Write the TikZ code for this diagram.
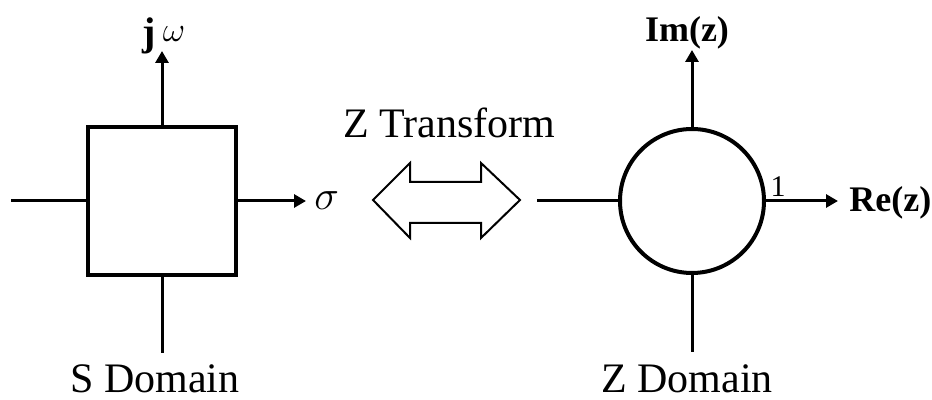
\documentclass[tikz,border=0pt]{standalone}
\usepackage{fontspec}
\setmainfont{Liberation Serif}
\usetikzlibrary{positioning,arrows.meta}

\begin{document}
\begin{tikzpicture}[x=0.5pt,y=-0.5pt,
axis/.style={line width=1.5pt},
arr/.style={axis,-{Triangle[length=6pt,width=6.5pt]}},
plane/.style={draw,line width=1.8pt,inner sep=0pt,outer sep=0pt},
lbl/.style={inner sep=0pt,anchor=base,font=\fontsize{21}{25}\selectfont},
blbl/.style={inner sep=0pt,anchor=base,font=\fontsize{18}{21}\selectfont\bfseries}]
\useasboundingbox (0,0) rectangle (932,400);
% S domain
\node[plane,minimum size=74pt] (sq) at (162,201) {};
\coordinate (sl) at (11,201); \coordinate (sr) at (306,201);
\coordinate (st) at (162,51); \coordinate (sb) at (162,353);
\draw[axis] (sl) -- (sq.west); \draw[arr] (sq.east) -- (sr);
\draw[arr] (sq.north) -- (st); \draw[axis] (sq.south) -- (sb);
\node[inner sep=0pt,anchor=base] (jw) at (164,46) {\fontsize{20}{22}\selectfont\textbf{j}\,\raisebox{2pt}{\fontsize{16}{18}\selectfont$\omega$}};
\node[inner sep=0pt,right=4pt of sr] (sig) {\fontsize{20}{24}\selectfont$\sigma$};
\node[lbl] (sdom) at (155,393) {S Domain};
% transform
\node[lbl] (ztr) at (449,138) {Z Transform};
\draw[line width=1pt] (373,200) -- (410,163) -- (410,182) -- (481,182) -- (481,163) -- (520,200)
  -- (481,238) -- (481,223) -- (410,223) -- (410,238) -- cycle;
% Z domain
\node[plane,circle,line width=2pt,minimum size=72pt] (uc) at (692,201) {};
\coordinate (zl) at (537,201); \coordinate (zr) at (838,201);
\coordinate (zt) at (692,50); \coordinate (zb) at (692,352);
\draw[axis] (zl) -- (uc.west); \draw[arr] (uc.east) -- (zr);
\draw[arr] (uc.north) -- (zt); \draw[axis] (uc.south) -- (zb);
\node[inner sep=0pt,anchor=base] (one) at (778,197) {\fontsize{15}{17}\selectfont 1};
\node[blbl,anchor=base west] (rez) at (849,212) {Re(z)};
\node[blbl] (imz) at (687,42) {Im(z)};
\node[lbl] (zdom) at (687,393) {Z Domain};
\end{tikzpicture}
\end{document}
